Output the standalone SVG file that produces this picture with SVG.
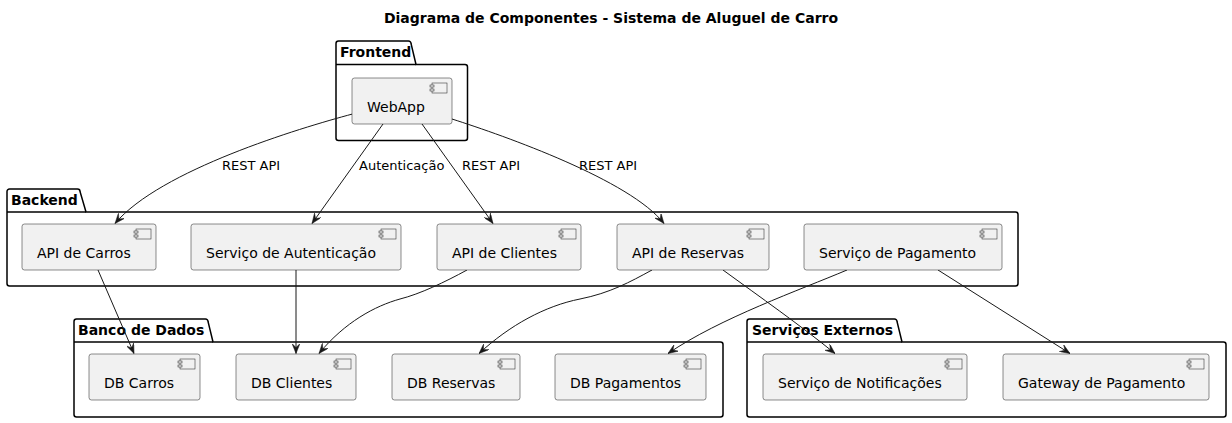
<svg xmlns="http://www.w3.org/2000/svg" width="1232" height="423" viewBox="0 0 1232 423">
<style>
  .pkg { fill: #FFFFFF; stroke: #000000; stroke-width: 1.5; }
  .pkgline { fill: none; stroke: #000000; stroke-width: 1.5; }
  .pkglabel { font-family: "DejaVu Sans", sans-serif; font-size: 14px; font-weight: bold; fill: #000000; }
  .comp { fill: #F1F1F1; stroke: #181818; stroke-width: 0.5; }
  .icon { fill: #F1F1F1; stroke: #181818; stroke-width: 0.5; }
  .ctext { font-family: "DejaVu Sans", sans-serif; font-size: 14px; fill: #000000; }
  .edge { fill: none; stroke: #181818; stroke-width: 1; }
  .elabel { font-family: "DejaVu Sans", sans-serif; font-size: 13px; fill: #000000; }
  .title { font-family: "DejaVu Sans", sans-serif; font-size: 14px; font-weight: bold; fill: #000000; }
</style>
<defs>
  <marker id="arrow" viewBox="0 0 10 8" refX="10" refY="4" markerWidth="10" markerHeight="8" markerUnits="userSpaceOnUse" orient="auto">
    <path d="M0,0 L10,4 L0,8 L4,4 Z" fill="#181818" stroke="#181818" stroke-width="0.5"/>
  </marker>
  <g id="cicon">
    <rect x="-20" y="5" width="15" height="10" class="icon"/>
    <rect x="-22" y="7" width="4" height="2" class="icon"/>
    <rect x="-22" y="11" width="4" height="2" class="icon"/>
  </g>
</defs>
<rect width="1232" height="423" fill="#FFFFFF"/>
<text class="title" x="611" y="23" text-anchor="middle">Diagrama de Componentes - Sistema de Aluguel de Carro</text>

<g id="pkg-frontend">
  <path class="pkg" d="M338.5,41 L408.5,41 A2.5,2.5 0 0 1 411,43.5 L416,64.5 L465,64.5 A2.5,2.5 0 0 1 467.5,67 L467.5,138 A2.5,2.5 0 0 1 465,140.5 L338.5,140.5 A2.5,2.5 0 0 1 336,138 L336,43.5 A2.5,2.5 0 0 1 338.5,41 Z"/>
  <path class="pkgline" d="M336,64.5 L416,64.5"/>
  <text class="pkglabel" x="340" y="57">Frontend</text>
</g>
<g id="pkg-backend">
  <path class="pkg" d="M9.5,189 L77.5,189 A2.5,2.5 0 0 1 80,191.5 L86,212 L1015.5,212 A2.5,2.5 0 0 1 1018,214.5 L1018,283.5 A2.5,2.5 0 0 1 1015.5,286 L9.5,286 A2.5,2.5 0 0 1 7,283.5 L7,191.5 A2.5,2.5 0 0 1 9.5,189 Z"/>
  <path class="pkgline" d="M7,212 L86,212"/>
  <text class="pkglabel" x="11" y="205">Backend</text>
</g>
<g id="pkg-banco">
  <path class="pkg" d="M76.5,319 L205.5,319 A2.5,2.5 0 0 1 208,321.5 L213,342 L720.5,342 A2.5,2.5 0 0 1 723,344.5 L723,414.5 A2.5,2.5 0 0 1 720.5,417 L76.5,417 A2.5,2.5 0 0 1 74,414.5 L74,321.5 A2.5,2.5 0 0 1 76.5,319 Z"/>
  <path class="pkgline" d="M74,342 L213,342"/>
  <text class="pkglabel" x="78" y="335">Banco de Dados</text>
</g>
<g id="pkg-externos">
  <path class="pkg" d="M749.5,319 L894.5,319 A2.5,2.5 0 0 1 897,321.5 L902,342 L1223.5,342 A2.5,2.5 0 0 1 1226,344.5 L1226,414.5 A2.5,2.5 0 0 1 1223.5,417 L749.5,417 A2.5,2.5 0 0 1 747,414.5 L747,321.5 A2.5,2.5 0 0 1 749.5,319 Z"/>
  <path class="pkgline" d="M747,342 L902,342"/>
  <text class="pkglabel" x="752" y="335">Serviços Externos</text>
</g>

<g id="connectors">
  <path class="edge" marker-end="url(#arrow)" d="M352.5,114 C300,128 160,170 115,223.5"/>
  <path class="edge" marker-end="url(#arrow)" d="M383,124 L312,223.5"/>
  <path class="edge" marker-end="url(#arrow)" d="M422,124 L493,223.5"/>
  <path class="edge" marker-end="url(#arrow)" d="M452,119 C505,136 630,180 664,223.5"/>
  <path class="edge" marker-end="url(#arrow)" d="M98,270 L134,353.5"/>
  <path class="edge" marker-end="url(#arrow)" d="M296,270 L296,353.5"/>
  <path class="edge" marker-end="url(#arrow)" d="M467,270 C445,282 420,294 400,299 C375,306 345,322 319,353.5"/>
  <path class="edge" marker-end="url(#arrow)" d="M652,270 C630,282 610,293 580,299 C545,306 510,325 479,353.5"/>
  <path class="edge" marker-end="url(#arrow)" d="M723,270 C760,297 800,325 835,353.5"/>
  <path class="edge" marker-end="url(#arrow)" d="M847,270 C800,290 720,318 668,353.5"/>
  <path class="edge" marker-end="url(#arrow)" d="M938,270 L1070,353.5"/>
  <text class="elabel" x="222" y="170">REST API</text>
  <text class="elabel" x="359" y="170">Autenticação</text>
  <text class="elabel" x="462" y="170">REST API</text>
  <text class="elabel" x="579" y="170">REST API</text>
</g>

<g id="webapp">
  <rect class="comp" x="352" y="78" width="100" height="46" rx="2.5"/>
  <use href="#cicon" x="452" y="78"/>
  <text class="ctext" x="367" y="112">WebApp</text>
</g>
<g id="api-carros">
  <rect class="comp" x="22" y="224" width="134" height="46" rx="2.5"/>
  <use href="#cicon" x="156" y="224"/>
  <text class="ctext" x="37" y="258">API de Carros</text>
</g>
<g id="servico-autenticacao">
  <rect class="comp" x="191" y="224" width="210" height="46" rx="2.5"/>
  <use href="#cicon" x="401" y="224"/>
  <text class="ctext" x="206" y="258">Serviço de Autenticação</text>
</g>
<g id="api-clientes">
  <rect class="comp" x="437" y="224" width="144" height="46" rx="2.5"/>
  <use href="#cicon" x="581" y="224"/>
  <text class="ctext" x="452" y="258">API de Clientes</text>
</g>
<g id="api-reservas">
  <rect class="comp" x="617" y="224" width="152" height="46" rx="2.5"/>
  <use href="#cicon" x="769" y="224"/>
  <text class="ctext" x="632" y="258">API de Reservas</text>
</g>
<g id="servico-pagamento">
  <rect class="comp" x="804" y="224" width="198" height="46" rx="2.5"/>
  <use href="#cicon" x="1002" y="224"/>
  <text class="ctext" x="819" y="258">Serviço de Pagamento</text>
</g>
<g id="db-carros">
  <rect class="comp" x="89" y="354" width="111" height="46" rx="2.5"/>
  <use href="#cicon" x="200" y="354"/>
  <text class="ctext" x="104" y="388">DB Carros</text>
</g>
<g id="db-clientes">
  <rect class="comp" x="236" y="354" width="120" height="46" rx="2.5"/>
  <use href="#cicon" x="356" y="354"/>
  <text class="ctext" x="251" y="388">DB Clientes</text>
</g>
<g id="db-reservas">
  <rect class="comp" x="392" y="354" width="128" height="46" rx="2.5"/>
  <use href="#cicon" x="520" y="354"/>
  <text class="ctext" x="407" y="388">DB Reservas</text>
</g>
<g id="db-pagamentos">
  <rect class="comp" x="555" y="354" width="151" height="46" rx="2.5"/>
  <use href="#cicon" x="706" y="354"/>
  <text class="ctext" x="570" y="388">DB Pagamentos</text>
</g>
<g id="servico-notificacoes">
  <rect class="comp" x="763" y="354" width="204" height="46" rx="2.5"/>
  <use href="#cicon" x="967" y="354"/>
  <text class="ctext" x="778" y="388">Serviço de Notificações</text>
</g>
<g id="gateway-pagamento">
  <rect class="comp" x="1003" y="354" width="206" height="46" rx="2.5"/>
  <use href="#cicon" x="1209" y="354"/>
  <text class="ctext" x="1018" y="388">Gateway de Pagamento</text>
</g>
</svg>
